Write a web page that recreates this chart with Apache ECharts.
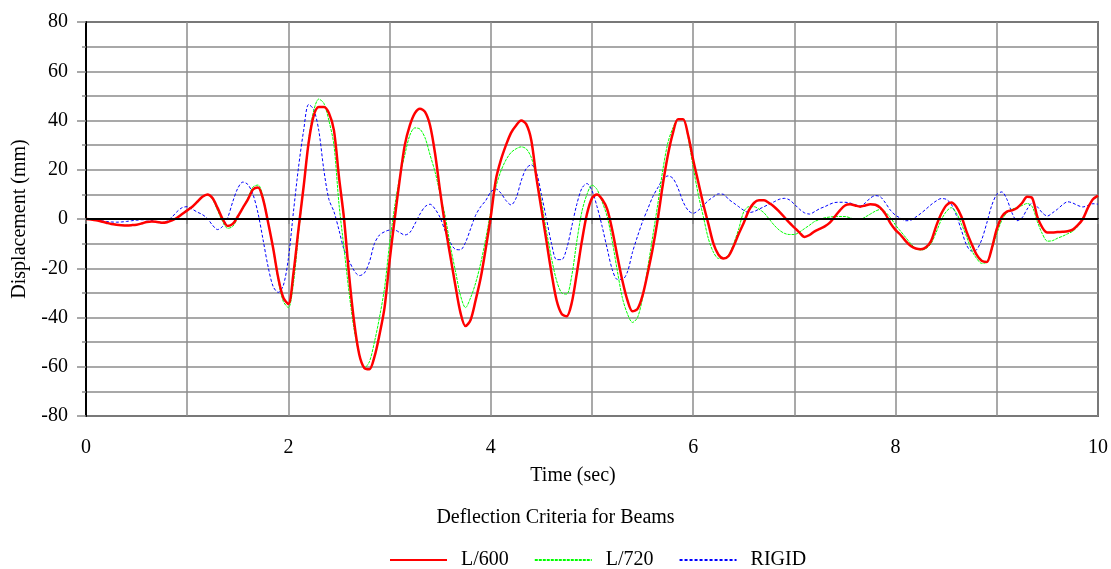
<!DOCTYPE html>
<html>
<head>
<meta charset="utf-8">
<title>Deflection Criteria for Beams</title>
<script src="https://cdn.jsdelivr.net/npm/echarts@6/dist/echarts.min.js"></script>
<style>
  html, body { margin: 0; padding: 0; background: #fff; }
  #main { width: 1111px; height: 569px; }
</style>
</head>
<body>
<div id="main"></div>
<script>
// sampled every 0.05 s, one row per second
var timeStep = 0.05;

var l600 = [
  0, -0.2, -0.5, -1.0, -1.5, -2.0, -2.3, -2.5, -2.6, -2.5, -2.3, -1.8, -1.2, -1.0, -1.2, -1.5, -1.3, -0.6, 0.5, 2.0,
  3.5, 5.0, 7.0, 9.0, 10.0, 8.5, 4.5, 0.0, -2.8, -2.0, 1.0, 4.5, 8.0, 12.0, 12.8, 8.0, -1.5, -12.0, -24.0, -32.0,
  -34.5, -22.0, -4.0, 13.0, 31.0, 42.0, 45.5, 45.5, 43.0, 36.0, 17.0, 0.0, -23.0, -42.0, -55.0, -60.5, -61.0, -56.0, -47.0, -36.0,
  -17.0, 0.0, 16.0, 30.0, 38.0, 43.0, 44.8, 43.5, 38.0, 26.4, 11.0, -3.0, -15.0, -27.0, -38.0, -43.5, -41.0, -33.0, -24.0, -12.0,
  1.0, 16.0, 24.0, 30.0, 35.0, 38.0, 40.0, 38.5, 32.0, 17.0, 4.0, -9.0, -22.0, -33.0, -38.5, -39.5, -34.0, -22.0, -9.0, 2.0,
  8.5, 10.0, 8.0, 4.0, -4.5, -15.0, -25.0, -33.0, -37.5, -36.5, -31.0, -22.0, -12.0, 0.0, 14.0, 26.0, 35.0, 40.5, 40.5, 34.0,
  24.0, 15.0, 6.0, -2.0, -10.0, -14.5, -16.0, -15.0, -11.0, -6.0, -1.5, 3.5, 6.5, 7.6, 7.6, 6.5, 5.0, 3.0, 0.8, -1.5,
  -3.5, -5.5, -7.3, -6.5, -5.0, -4.0, -3.0, -1.5, 1.0, 3.5, 5.5, 6.0, 5.5, 5.0, 5.5, 6.0, 5.8, 4.5, 2.0, -1.8,
  -4.5, -6.5, -9.0, -11.0, -12.0, -12.3, -11.5, -9.0, -3.0, 2.0, 5.5, 6.7, 5.0, 1.0, -5.0, -10.0, -14.5, -17.0, -17.5, -12.0,
  -4.0, 1.0, 3.0, 3.5, 4.5, 6.5, 9.0, 8.5, 1.0, -3.5, -5.5, -5.5, -5.3, -5.2, -5.0, -4.3, -2.5, 0.0, 4.5, 8.0,
  9.5
];

var l720 = [
  0, -0.2, -0.5, -1.0, -1.5, -1.9, -2.2, -2.4, -2.5, -2.4, -2.2, -1.7, -1.2, -1.0, -1.1, -1.4, -1.2, -0.5, 0.6, 2.0,
  3.5, 5.0, 7.0, 9.0, 9.8, 8.0, 3.5, -1.0, -3.8, -3.0, 0.5, 4.5, 8.5, 13.0, 13.8, 9.0, -1.5, -12.5, -25.0, -33.5,
  -36.0, -26.0, -6.0, 13.0, 32.0, 44.0, 48.7, 47.0, 40.0, 30.0, 6.0, -12.0, -30.0, -45.0, -55.0, -60.5, -58.0, -50.0, -40.0, -28.0,
  -10.0, 5.0, 17.0, 26.0, 34.0, 37.0, 36.5, 33.0, 26.0, 19.0, 10.0, 1.0, -11.0, -21.0, -31.0, -36.0, -32.0, -26.0, -18.0, -8.0,
  3.0, 13.0, 19.5, 24.0, 27.0, 28.5, 29.3, 28.5, 25.0, 17.0, 7.0, -5.0, -16.0, -25.0, -30.0, -30.5, -23.0, -9.0, 3.0, 10.0,
  13.8, 12.0, 7.0, 1.0, -9.0, -21.0, -32.0, -38.5, -42.0, -40.0, -32.0, -20.0, -7.0, 6.0, 20.0, 31.0, 37.0, 40.5, 40.5, 33.0,
  21.0, 10.0, 1.0, -8.0, -13.5, -16.0, -16.0, -14.5, -10.0, -4.0, 3.0, 5.0, 5.0, 4.0, 2.5, 0.0, -2.5, -4.5, -5.8, -6.3,
  -6.3, -5.3, -3.9, -2.5, -1.0, -0.2, 0.5, 0.8, 1.0, 1.0, 1.0, 0.5, -0.2, -0.2, 0.8, 2.0, 3.2, 3.9, 2.8, 0.5,
  -2.5, -5.0, -7.5, -10.0, -12.0, -12.6, -12.0, -10.0, -5.5, -0.5, 3.0, 4.6, 2.5, -2.0, -7.0, -12.6, -16.0, -18.0, -17.5, -12.6,
  -6.0, -0.5, 2.6, 4.0, 4.6, 5.5, 6.3, 5.0, -1.0, -6.0, -9.0, -8.8, -7.8, -7.0, -6.0, -5.0, -3.0, 0.0, 4.5, 8.0,
  9.0
];

var rigid = [
  0, -0.2, -0.4, -0.7, -1.0, -1.2, -1.3, -1.2, -1.0, -0.7, -0.5, -0.3, -0.3, -0.6, -1.3, -1.8, -0.8, 0.8, 3.0, 4.6,
  5.0, 4.0, 2.8, 1.8, 0.2, -2.5, -4.3, -3.0, 0.5, 7.0, 12.5, 15.0, 14.0, 10.0, 2.3, -8.5, -19.5, -27.5, -29.8, -27.0,
  -16.0, 3.0, 21.0, 35.8, 46.5, 44.5, 36.0, 20.0, 8.0, 3.0, -4.5, -12.5, -17.0, -21.0, -23.0, -22.0, -17.5, -10.0, -6.5, -5.2,
  -4.5, -4.5, -5.5, -6.5, -5.5, -2.0, 2.0, 5.0, 6.0, 4.0, 0.5, -5.0, -9.5, -12.3, -12.5, -9.5, -4.0, 1.5, 5.0, 7.5,
  11.0, 12.2, 10.5, 7.5, 5.7, 8.5, 15.5, 20.5, 22.0, 19.0, 10.0, 0.0, -10.0, -16.5, -16.5, -12.0, -3.0, 6.0, 12.5, 14.4,
  11.5, 5.0, -3.0, -12.0, -20.5, -24.5, -24.5, -21.5, -13.5, -7.0, -1.0, 4.0, 9.0, 12.7, 16.0, 17.5, 16.5, 12.5, 7.0, 3.5,
  2.3, 3.5, 5.5, 7.5, 9.0, 10.2, 10.0, 8.0, 6.5, 5.0, 3.5, 2.6, 3.0, 4.0, 5.0, 6.0, 7.0, 8.0, 8.4, 7.8,
  6.0, 4.0, 2.5, 2.0, 3.0, 4.2, 5.0, 6.0, 6.7, 6.8, 6.8, 6.5, 5.8, 5.3, 6.5, 8.5, 9.5, 9.0, 6.5, 3.5,
  1.5, 0.3, -0.7, -0.5, 0.8, 2.3, 4.0, 5.8, 7.3, 8.3, 8.0, 6.0, 1.5, -4.5, -10.5, -13.0, -12.5, -8.5, -1.8, 5.5,
  10.0, 11.0, 8.0, 2.5, -0.7, 0.5, 4.0, 6.5, 5.0, 2.5, 1.2, 2.5, 4.0, 5.8, 7.0, 6.5, 5.5, 4.9, 5.5, 6.2,
  6.0
];

var seriesNames = ['L/600', 'L/720', 'RIGID'];

function pairs(vals) {
  return vals.map(function(v, i) { return [+(i * timeStep).toFixed(2), v]; });
}

var font = 'Liberation Serif';
var gridGray = '#8c8c8c';

var chart = echarts.init(document.getElementById('main'));
var option = {
  backgroundColor: '#fff',
  animation: false,
  title: {
    text: 'Deflection Criteria for Beams',
    left: 'center',
    top: 503,
    textStyle: { fontFamily: font, fontSize: 20, fontWeight: 'normal', color: '#000' }
  },
  legend: {
    data: seriesNames,
    left: 384,
    top: 545,
    itemWidth: 57,
    itemHeight: 12,
    itemGap: 25,
    itemStyle: { opacity: 0 },
    textStyle: { fontFamily: font, fontSize: 20, color: '#000', padding: [0, 0, 0, 9] }
  },
  grid: {
    left: 86,
    right: 12,
    top: 22,
    bottom: 153,
    show: true,
    borderColor: '#000',
    borderWidth: 1.5
  },
  xAxis: {
    type: 'value',
    min: 0,
    max: 10,
    interval: 1,
    name: 'Time (sec)',
    nameLocation: 'middle',
    nameGap: 50,
    nameTextStyle: { fontFamily: font, fontSize: 20, color: '#000', padding: [0, 38, 0, 0] },
    axisLine: { lineStyle: { color: '#000', width: 2 } },
    axisTick: { length: 5, lineStyle: { color: gridGray, width: 1.5 } },
    axisLabel: {
      fontFamily: font, fontSize: 20, color: '#000', margin: 22,
      formatter: function(v) { return v % 2 === 0 ? String(v) : ''; }
    },
    splitLine: { show: true, lineStyle: { color: gridGray, width: 1.5 } }
  },
  yAxis: {
    type: 'value',
    min: -80,
    max: 80,
    interval: 20,
    name: 'Displacement (mm)',
    nameLocation: 'middle',
    nameRotate: 90,
    nameGap: 56,
    nameTextStyle: { fontFamily: font, fontSize: 20, color: '#000' },
    axisLine: { lineStyle: { color: '#000', width: 2 } },
    axisTick: { length: 9, lineStyle: { color: gridGray, width: 1.5 } },
    minorTick: { show: true, splitNumber: 2, length: 4, lineStyle: { color: gridGray, width: 1.5 } },
    axisLabel: { fontFamily: font, fontSize: 20, color: '#000', margin: 18 },
    splitLine: { show: true, lineStyle: { color: gridGray, width: 1.5 } },
    minorSplitLine: { show: true, lineStyle: { color: gridGray, width: 1.5 } }
  },
  series: [
    {
      // zero line
      name: 'zero',
      type: 'line',
      data: [],
      silent: true,
      z: 1,
      markLine: {
        symbol: 'none',
        silent: true,
        label: { show: false },
        lineStyle: { color: '#000', width: 2, type: 'solid' },
        data: [{ yAxis: 0 }]
      }
    },
    {
      name: 'RIGID',
      type: 'line',
      data: pairs(rigid),
      symbol: 'none',
      smooth: 0.3,
      z: 2,
      lineStyle: { color: '#0000ff', width: 1, type: [3, 2] },
      itemStyle: { color: '#0000ff' }
    },
    {
      name: 'L/720',
      type: 'line',
      data: pairs(l720),
      symbol: 'none',
      smooth: 0.3,
      z: 3,
      lineStyle: { color: '#00ff00', width: 1, type: [3, 1] },
      itemStyle: { color: '#00ff00' }
    },
    {
      name: 'L/600',
      type: 'line',
      data: pairs(l600),
      symbol: 'none',
      smooth: 0.3,
      z: 4,
      lineStyle: { color: '#ff0000', width: 2.5 },
      itemStyle: { color: '#ff0000' }
    }
  ]
};
chart.setOption(option);
window.onresize = function() { chart.resize(); };
</script>
</body>
</html>
